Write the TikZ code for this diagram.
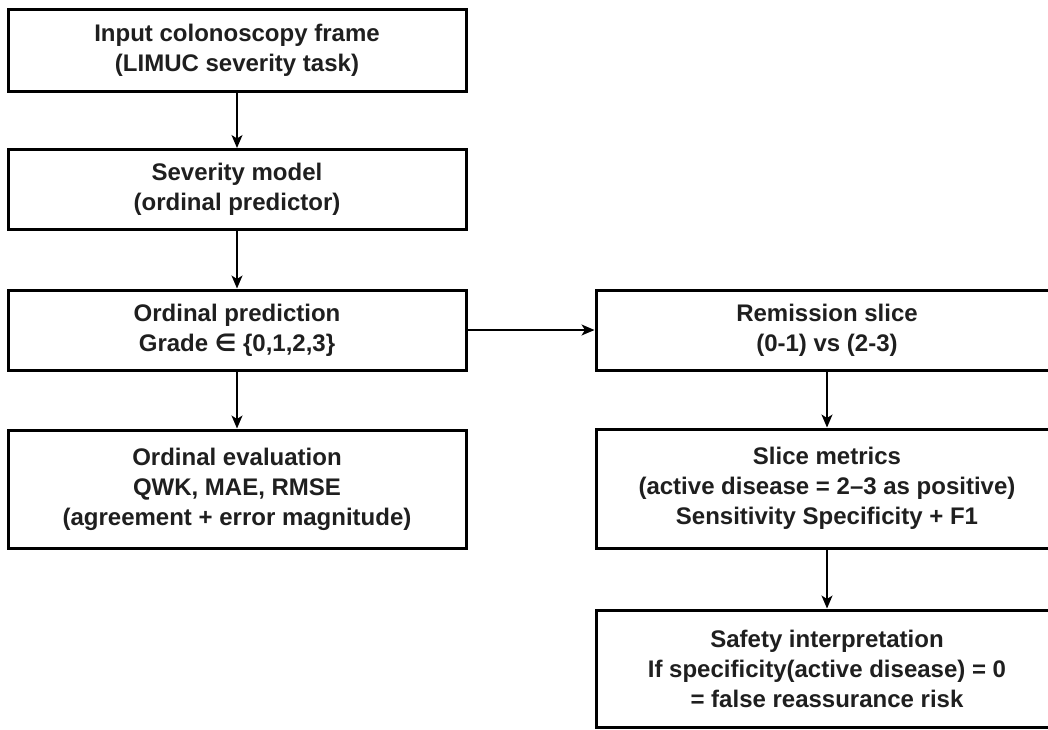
\documentclass[tikz,border=0pt]{standalone}
\usepackage{fontspec}
\setmainfont{Liberation Sans}
\newfontfamily\symfont{DejaVu Sans}
\usetikzlibrary{arrows.meta}
\tikzset{
  stepbox/.style={draw=black, line width=3pt, fill=white, rectangle,
    align=center, inner sep=0pt,
    font=\fontsize{24}{30}\selectfont\bfseries, text=black!88},
  flow/.style={line width=1.5pt, draw=black,
    -{Stealth[length=13pt, width=11pt, inset=3.5pt]}}
}
\begin{document}
\begin{tikzpicture}[x=1pt, y=-1pt]
  \useasboundingbox (0,0) rectangle (1048,729);
  \clip (0,0) rectangle (1048,729);
  \fill[white] (0,0) rectangle (1048,729);

  % left column
  \node[stepbox, minimum width=458pt, minimum height=82pt] (input) at (237,50)
    {Input colonoscopy frame\\(LIMUC severity task)};
  \node[stepbox, minimum width=458pt, minimum height=80pt] (model) at (237,189.5)
    {Severity model\\(ordinal predictor)};
  \node[stepbox, minimum width=458pt, minimum height=80pt] (pred) at (237,330)
    {Ordinal prediction\\Grade {\symfont ∈} \{0,1,2,3\}};
  \node[stepbox, minimum width=458pt, minimum height=118pt] (eval) at (237,489)
    {Ordinal evaluation\\QWK, MAE, RMSE\\(agreement + error magnitude)};

  % right column
  \node[stepbox, minimum width=462pt, minimum height=80pt] (slice) at (827,330)
    {Remission slice\\(0-1) vs (2-3)};
  \node[stepbox, minimum width=462pt, minimum height=119pt] (metrics) at (827,488.5)
    {Slice metrics\\(active disease = 2–3 as positive)\\Sensitivity Specificity + F1};
  \node[stepbox, minimum width=462pt, minimum height=117pt] (safety) at (827,668.5)
    {Safety interpretation\\If specificity(active disease) = 0\\= false reassurance risk};

  % connectors
  \draw[flow] (input) -- (model);
  \draw[flow] (model) -- (pred);
  \draw[flow] (pred) -- (eval);
  \draw[flow] (pred.east) -- (slice.west);
  \draw[flow] (slice) -- (metrics);
  \draw[flow] (metrics) -- (safety);
\end{tikzpicture}
\end{document}
